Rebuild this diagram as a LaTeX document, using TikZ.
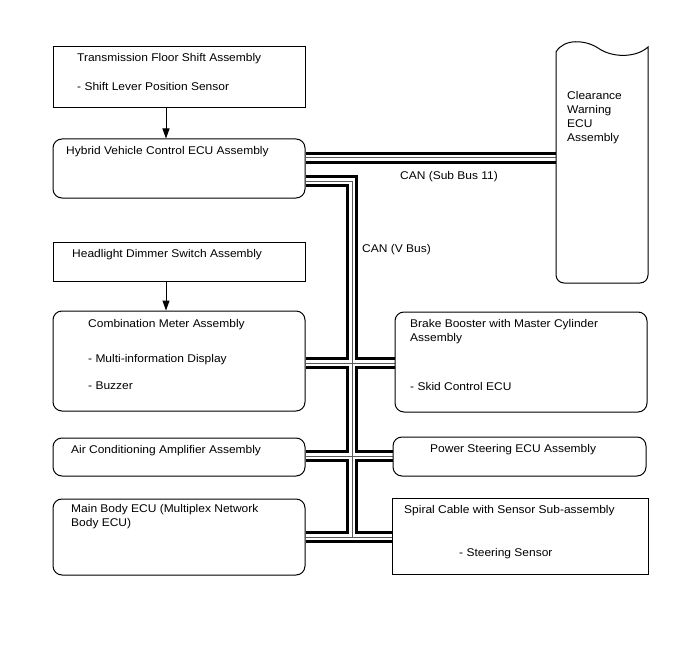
\documentclass[tikz,border=0pt]{standalone}
\usepackage{fontspec}
\setmainfont{Liberation Sans}[FakeStretch=1.07]
\usetikzlibrary{arrows.meta,backgrounds}

\tikzset{
  box/.style={draw, line width=1pt, fill=white, inner sep=0pt},
  sqbox/.style={box, rectangle},
  rbox/.style={box, rectangle, rounded corners=9pt},
  txt/.style={anchor=base west, inner sep=0pt},
  arr/.style={line width=1pt, -{Triangle[length=10pt,width=7pt]}},
  busout/.style={line width=11.5pt, black, line join=miter},
  busin/.style={line width=6.5pt, white, line join=miter},
  buscore/.style={line width=1pt, black!65, line join=miter}
}

% all bus segments, drawn once per layer of the cable
\newcommand{\canruns}[1]{%
  \draw[#1] (hv.east |- sb) -- (cw);
  \draw[#1] (hv.east |- vtop) -- (vtop) -- (vbot);
  \draw[#1] (cm.east |- j1) -- (bb.west |- j1);
  \draw[#1] (ac.east |- j2) -- (ps.west |- j2);
  \draw[#1] (mb.east |- vbot) -- (sc.west |- vbot);
}

\begin{document}
\begin{tikzpicture}[x=1pt, y=-1pt, font=\fontsize{11.2}{13.8}\selectfont]
\useasboundingbox (0,0) rectangle (688,658);

% Boxes
\node[sqbox, minimum width=252pt, minimum height=61pt] (tfs) at (179,77.5) {};
\node[rbox, minimum width=252pt, minimum height=59pt] (hv) at (179,168.5) {};
\node[sqbox, minimum width=252pt, minimum height=39pt] (hd) at (179,261.5) {};
\node[rbox, minimum width=252pt, minimum height=100pt] (cm) at (179,361) {};
\node[rbox, minimum width=252pt, minimum height=38pt] (ac) at (179,457) {};
\node[rbox, minimum width=252pt, minimum height=76pt] (mb) at (179,537) {};
\node[rbox, minimum width=252pt, minimum height=100pt] (bb) at (521,362) {};
\node[rbox, minimum width=253pt, minimum height=39pt] (ps) at (519.5,456.5) {};
\node[sqbox, minimum width=256pt, minimum height=76pt] (sc) at (520,536) {};

% Clearance Warning ECU (wavy top)
\draw[line width=1pt, fill=white] (556,52) [rounded corners=8pt] -- (556,283) -- (648,283)
  [sharp corners] -- (648,47) .. controls (636,58) and (612,58) .. (598,48)
  .. controls (586,40) and (564,38) .. (556,52) -- cycle;

% Bus points
\coordinate (cw) at (556,158);
\coordinate (sb) at (352,158);
\coordinate (vtop) at (352,181);
\coordinate (vbot) at (352,537);
\coordinate (j1) at (352,363);
\coordinate (j2) at (352,456);
\coordinate (ax) at (166,0);

\begin{pgfonlayer}{background}
\canruns{busout}
\canruns{busin}
\canruns{buscore}
\end{pgfonlayer}

% Arrows
\draw[arr] (tfs.south -| ax) -- (hv.north -| ax);
\draw[arr] (hd.south -| ax) -- (cm.north -| ax);

% Labels
\node[txt] (tfsA) at (77,61.5) {Transmission Floor Shift Assembly};
\node[txt] (tfsB) at (77,90.5) {- Shift Lever Position Sensor};
\node[txt] (hvA) at (66,155) {Hybrid Vehicle Control ECU Assembly};
\node[txt] (hdA) at (72,257) {Headlight Dimmer Switch Assembly};
\node[txt] (cmA) at (88,327) {Combination Meter Assembly};
\node[txt] (cmB) at (88,362) {- Multi-information Display};
\node[txt] (cmC) at (88,389) {- Buzzer};
\node[txt] (acA) at (71,453) {Air Conditioning Amplifier Assembly};
\node[txt] (mbA) at (71,512.5) {Main Body ECU (Multiplex Network};
\node[txt] (mbB) at (71,526) {Body ECU)};
\node[txt] (bbA) at (410,327) {Brake Booster with Master Cylinder};
\node[txt] (bbB) at (410,341) {Assembly};
\node[txt] (bbC) at (410,390) {- Skid Control ECU};
\node[txt] (psA) at (430,452) {Power Steering ECU Assembly};
\node[txt] (scA) at (404,513) {Spiral Cable with Sensor Sub-assembly};
\node[txt] (scB) at (459,556) {- Steering Sensor};
\node[txt] (cwA) at (567,100) {Clearance};
\node[txt] (cwB) at (567,114) {Warning};
\node[txt] (cwC) at (567,128) {ECU};
\node[txt] (cwD) at (567,142) {Assembly};
\node[txt] (sbus) at (400,179) {CAN (Sub Bus 11)};
\node[txt] (vbus) at (362,252) {CAN (V Bus)};
\end{tikzpicture}
\end{document}
